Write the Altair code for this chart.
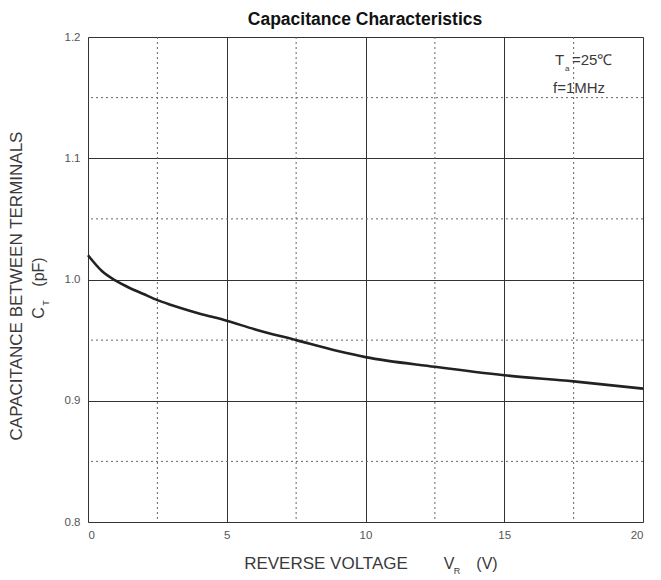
import altair as alt
import pandas as pd

# data
voltage = [0, 0.5, 1, 1.5, 2, 2.5, 3, 4, 5, 6, 7.5, 9, 10, 12.5, 15, 17.5, 20]
capacitance = [1.020, 1.007, 0.999, 0.993, 0.988, 0.983, 0.979, 0.972, 0.966, 0.959,
               0.950, 0.941, 0.936, 0.928, 0.921, 0.916, 0.910]
x_minor = [2.5, 7.5, 12.5, 17.5]
y_minor = [0.85, 0.95, 1.05, 1.15]
x_ticks = [0, 5, 10, 15, 20]
y_ticks = [0.8, 0.9, 1.0, 1.1, 1.2]

FONT = "Liberation Sans"
df = pd.DataFrame({"v": voltage, "c": capacitance})

xs = alt.Scale(domain=[0, 20], nice=False, zero=False)
ys = alt.Scale(domain=[0.8, 1.2], nice=False, zero=False)

base = alt.Chart(df)

line = base.mark_line(color="#222222", strokeWidth=2.6, interpolate="monotone").encode(
    x=alt.X("v:Q", scale=xs,
            axis=alt.Axis(values=x_ticks, format="d", title=None, grid=True,
                          gridColor="#333333", gridWidth=1, ticks=False, domain=False,
                          labelFont=FONT, labelFontSize=11.5, labelColor="#555555",
                          labelPadding=7)),
    y=alt.Y("c:Q", scale=ys,
            axis=alt.Axis(values=y_ticks, format=".1f", title=None, grid=True,
                          gridColor="#333333", gridWidth=1, ticks=False, domain=False,
                          labelFont=FONT, labelFontSize=11.5, labelColor="#555555",
                          labelPadding=8)),
)

xminor = alt.Chart(pd.DataFrame({"v": x_minor})).mark_rule(
    color="#666666", strokeDash=[2, 3], strokeWidth=1).encode(x=alt.X("v:Q", scale=xs))
yminor = alt.Chart(pd.DataFrame({"c": y_minor})).mark_rule(
    color="#666666", strokeDash=[2, 3], strokeWidth=1).encode(y=alt.Y("c:Q", scale=ys))


def txt(text, x, y, size=12, angle=0, weight="normal", align="center", color="#3a3a3a"):
    return alt.Chart(pd.DataFrame({"t": [text]})).mark_text(
        font=FONT, fontSize=size, angle=angle, fontWeight=weight, align=align,
        baseline="alphabetic", color=color).encode(
        text="t:N", x=alt.value(x), y=alt.value(y))


texts = [
    txt("Capacitance Characteristics", 277, -12, size=17.5, weight="bold", color="#111111"),
    # x-axis title
    txt("REVERSE VOLTAGE", 238, 532, size=17),
    txt("V", 361, 532, size=16),
    txt("R", 369, 537, size=9),
    txt("(V)", 399, 532, size=16),
    # y-axis title
    txt("CAPACITANCE BETWEEN TERMINALS", -66, 249, size=17, angle=270),
    txt("C", -44, 276, size=16, angle=270),
    txt("T", -39, 266, size=9, angle=270),
    txt("(pF)", -44, 235, size=16, angle=270),
    # annotation
    txt("T", 467, 28, size=15, align="left"),
    txt("a", 477, 34, size=8, align="left"),
    txt("=25\u2103", 484, 28, size=15, align="left"),
    txt("f=1MHz", 465, 56, size=15, align="left"),
]

chart = alt.layer(xminor, yminor, line, *texts).properties(
    width=555, height=485,
    autosize=alt.AutoSizeParams(type="none"),
    padding={"left": 80, "top": 29, "right": 10, "bottom": 55},
).configure_view(stroke="#222222", strokeWidth=1.5).configure(background="white")

chart.save("out.html", embed_options={"renderer": "svg", "actions": False})
